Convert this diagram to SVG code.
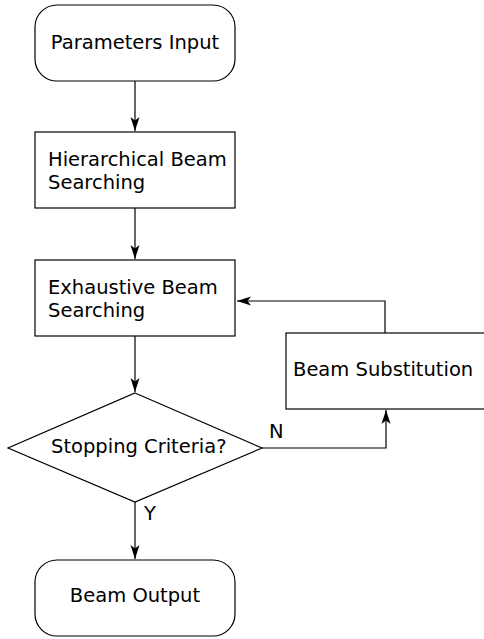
<svg xmlns="http://www.w3.org/2000/svg" width="484" height="639" viewBox="0 0 484 639">
<style>
.n{fill:#fff;stroke:#000;stroke-width:1.2}
.t{font-family:"DejaVu Sans",Verdana,sans-serif;font-size:19.5px;fill:#000}
.c{fill:none;stroke:#000;stroke-width:1.2}
</style>
<defs>
<marker id="ar" viewBox="-15 -5 16 10" refX="0" refY="0" markerWidth="16" markerHeight="10" markerUnits="userSpaceOnUse" orient="auto">
<path d="M0,0 L-14,-4.5 L-10.5,0 L-14,4.5 Z" fill="#000"/>
</marker>
</defs>
<rect width="484" height="639" fill="#fff"/>
<g id="connectors">
<path class="c" d="M135,81 V131" marker-end="url(#ar)"/>
<path class="c" d="M135,208 V259" marker-end="url(#ar)"/>
<path class="c" d="M135,336 V392" marker-end="url(#ar)"/>
<path class="c" d="M135,502 V559" marker-end="url(#ar)"/>
<path class="c" d="M262,448 H386 V410" marker-end="url(#ar)"/>
<path class="c" d="M385,333 V301 H237" marker-end="url(#ar)"/>
<text class="t" x="269" y="438">N</text>
<text class="t" x="144" y="520">Y</text>
</g>
<g id="params">
<rect class="n" x="35" y="5" width="200" height="76" rx="22" ry="22"/>
<text class="t" x="135" y="49" text-anchor="middle">Parameters Input</text>
</g>
<g id="hier">
<rect class="n" x="35" y="132" width="200" height="76"/>
<text class="t" x="48" y="166">Hierarchical Beam</text>
<text class="t" x="48" y="188.5">Searching</text>
</g>
<g id="exh">
<rect class="n" x="35" y="260" width="200" height="76"/>
<text class="t" x="48" y="293.5">Exhaustive Beam</text>
<text class="t" x="48" y="316.5">Searching</text>
</g>
<g id="subst">
<rect class="n" x="286" y="333" width="210" height="76"/>
<text class="t" x="293" y="376">Beam Substitution</text>
</g>
<g id="stop">
<polygon class="n" points="135,393 262,448 135,502 8,448"/>
<text class="t" x="51" y="452.5">Stopping Criteria?</text>
</g>
<g id="output">
<rect class="n" x="35" y="560" width="200" height="76" rx="22" ry="22"/>
<text class="t" x="135" y="602" text-anchor="middle">Beam Output</text>
</g>
</svg>
